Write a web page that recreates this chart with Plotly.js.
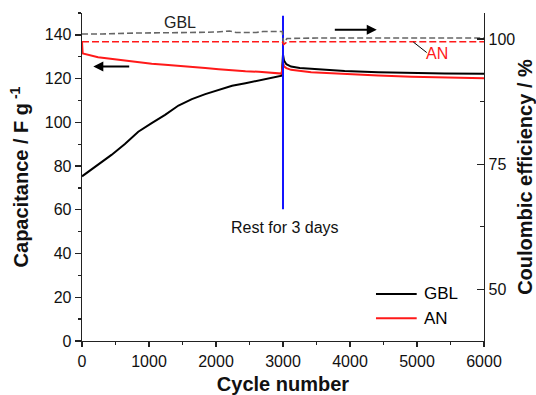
<!DOCTYPE html>
<html>
<head>
<meta charset="utf-8">
<script src="https://cdn.plot.ly/plotly-3.0.1.min.js"></script>
<style>html,body{margin:0;padding:0;background:#fff;}#chart{width:536px;height:395px;}</style>
</head>
<body>
<div id="chart"></div>
<script>
// ---- Data ----
const gblCycle = [0,240,440,640,840,1040,1240,1440,1640,1840,2040,2240,2440,2640,2840,2980,3000,3015,3050,3120,3250,3420,3700,3920,4420,4920,5410,6000];
const gblCap   = [75.3,80.5,85.1,90.1,95.7,99.6,103.4,107.7,110.6,112.9,114.8,116.7,117.9,119.1,120.2,121.3,131.0,128.3,126.6,125.5,124.9,124.5,123.9,123.5,122.9,122.5,122.3,122.2];

const anCycle = [0,10,240,440,640,840,1040,1240,1440,1640,1840,2040,2240,2440,2640,2840,2980,3000,3015,3050,3120,3420,3920,4420,4920,5410,6000];
const anCap   = [136.8,131.5,129.8,129.0,128.1,127.4,126.8,126.3,125.7,125.2,124.8,124.3,123.7,123.4,123.1,122.6,122.3,127.4,125.6,124.8,124.0,122.9,122.0,121.4,120.9,120.5,120.2];

const gblCeCycle = [0,300,800,1300,1600,2000,2200,2300,2600,2700,2990,3010,3060,3500,6000];
const gblCe      = [101.0,101.0,101.2,101.2,101.3,101.4,101.6,101.3,101.3,101.5,101.5,99.2,100.1,100.2,100.2];

const anCeCycle = [0,2990,3010,3060,6000];
const anCe      = [99.45,99.45,98.9,99.45,99.45];

const restCycle = [3000,3000];
const restSpan  = [60.3,148.7];

const seriesNames = ['GBL','AN'];
const leftTicks  = [0,20,40,60,80,100,120,140];
const rightTicks = [50,75,100];
const xTicks     = [0,1000,2000,3000,4000,5000,6000];

const FONT = '"Liberation Sans", Arial, sans-serif';
const RED = 'rgb(255,25,25)';

const traces = [
  {x: gblCycle, y: gblCap, mode: 'lines', name: seriesNames[0], line: {color: '#000', width: 2}, showlegend: false},
  {x: anCycle, y: anCap, mode: 'lines', name: seriesNames[1], line: {color: RED, width: 2}, showlegend: false},
  {x: gblCeCycle, y: gblCe, yaxis: 'y2', mode: 'lines', name: seriesNames[0] + ' CE', line: {color: '#666', width: 1.6, dash: '6px,3px'}, showlegend: false},
  {x: anCeCycle, y: anCe, yaxis: 'y2', mode: 'lines', name: seriesNames[1] + ' CE', line: {color: RED, width: 1.6, dash: '7px,3px'}, showlegend: false},
  {x: restCycle, y: restSpan, mode: 'lines', name: 'rest', line: {color: '#1414ff', width: 2}, showlegend: false}
];

const axisCommon = {
  showgrid: false, zeroline: false, showline: true, linecolor: '#222', linewidth: 1.3,
  tickcolor: '#222', tickwidth: 1.3, tickfont: {family: FONT, size: 16, color: '#111'}
};

const layout = {
  width: 536, height: 395,
  margin: {l: 82, r: 52, t: 13, b: 54},
  paper_bgcolor: '#fff', plot_bgcolor: '#fff',
  font: {family: FONT, color: '#111'},
  showlegend: false,
  xaxis: Object.assign({}, axisCommon, {
    range: [0, 6000], tickvals: xTicks, ticks: 'outside', ticklen: 5,
    minor: {dtick: 500, tick0: 0, ticks: 'outside', ticklen: 3, tickcolor: '#222', tickwidth: 1.3},
    title: {text: '<b>Cycle number</b>', font: {family: FONT, size: 20, color: '#111'}, standoff: 8}
  }),
  yaxis: Object.assign({}, axisCommon, {
    range: [0, 150], tickvals: leftTicks, ticks: 'outside', ticklen: 6,
    minor: {dtick: 10, tick0: 0, ticks: 'outside', ticklen: 3, tickcolor: '#222', tickwidth: 1.3},
    title: {text: '<b>Capacitance / F g<sup> -1</sup></b>', font: {family: FONT, size: 20, color: '#111'}, standoff: 10}
  }),
  yaxis2: Object.assign({}, axisCommon, {
    overlaying: 'y', side: 'right', range: [39.7, 105.2], tickvals: rightTicks, ticks: 'inside', ticklen: 7,
    minor: {dtick: 12.5, tick0: 50, ticks: 'inside', ticklen: 4, tickcolor: '#222', tickwidth: 1.3},
    title: {text: '<b>Coulombic efficiency / %</b>', font: {family: FONT, size: 20, color: '#111'}, standoff: 8}
  }),
  shapes: [
    {type: 'line', xref: 'paper', yref: 'paper', x0: 0.7313, x1: 0.8326, y0: 0.1433, y1: 0.1433, line: {color: '#000', width: 2}},
    {type: 'line', xref: 'paper', yref: 'paper', x0: 0.7313, x1: 0.8326, y0: 0.0692, y1: 0.0692, line: {color: RED, width: 2}},
    {type: 'line', xref: 'x', yref: 'y2', x0: 4945, y0: 99.4, x1: 5145, y1: 97.3, line: {color: '#000', width: 1}}
  ],
  annotations: [
    {xref: 'paper', yref: 'paper', x: 0.845, y: 0.1433, xanchor: 'left', yanchor: 'middle', text: seriesNames[0], showarrow: false, font: {family: FONT, size: 17, color: '#000'}},
    {xref: 'paper', yref: 'paper', x: 0.845, y: 0.0692, xanchor: 'left', yanchor: 'middle', text: seriesNames[1], showarrow: false, font: {family: FONT, size: 17, color: '#000'}},
    {xref: 'x', yref: 'y', x: 1463, y: 145.7, text: 'GBL', showarrow: false, font: {family: FONT, size: 16, color: '#222'}},
    {xref: 'x', yref: 'y2', x: 5300, y: 97.1, text: 'AN', showarrow: false, font: {family: FONT, size: 16, color: RED}},
    {xref: 'x', yref: 'y', x: 3030, y: 51.8, text: 'Rest for 3 days', showarrow: false, font: {family: FONT, size: 16, color: '#111'}},
    {xref: 'x', yref: 'y', axref: 'x', ayref: 'y', x: 169, y: 125.5, ax: 727, ay: 125.5, text: '', showarrow: true, arrowhead: 2, arrowsize: 1, arrowwidth: 2, arrowcolor: '#000'},
    {xref: 'x', yref: 'y', axref: 'x', ayref: 'y', x: 4399, y: 142.3, ax: 3751, ay: 142.3, text: '', showarrow: true, arrowhead: 2, arrowsize: 1, arrowwidth: 2, arrowcolor: '#000'}
  ]
};

Plotly.newPlot('chart', traces, layout, {displayModeBar: false, staticPlot: true});
</script>
</body>
</html>
